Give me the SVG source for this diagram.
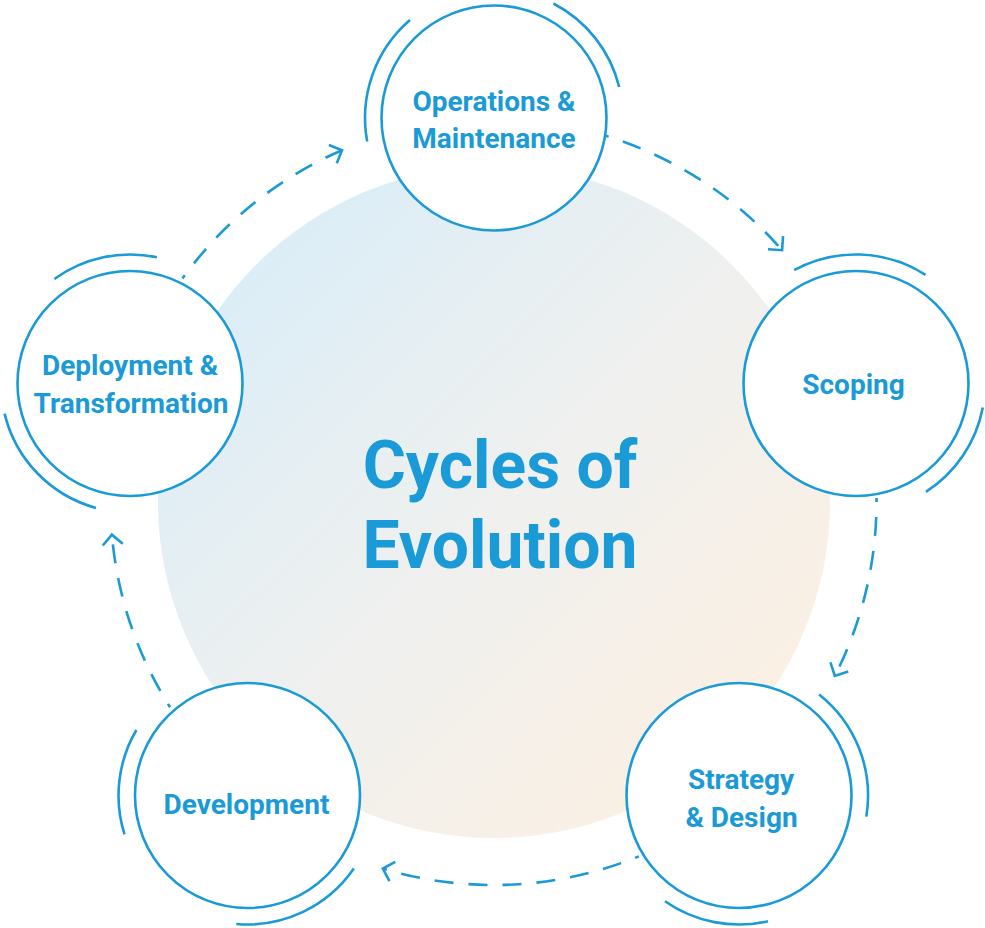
<svg xmlns="http://www.w3.org/2000/svg" width="985" height="928" viewBox="0 0 985 928">
  <style>
    .ring { fill: #ffffff; stroke: #1a9ad6; stroke-width: 2.6; }
    .halo { fill: none; stroke: #1a9ad6; stroke-width: 2.6; }
    .flow { fill: none; stroke: #1a9ad6; stroke-width: 2.6; stroke-dasharray: 19 15; stroke-dashoffset: 15; }
    .label { font-family: Roboto, "Liberation Sans", sans-serif; font-weight: 700; font-size: 28px; fill: #1a9ad6; text-anchor: middle; }
    .title { font-family: Roboto, "Liberation Sans", sans-serif; font-weight: 700; font-size: 66px; fill: #1a9ad6; text-anchor: middle; }
  </style>
  <defs>
    <linearGradient id="hub" x1="0" y1="0" x2="1" y2="1">
      <stop offset="0.1" stop-color="#d9edf8"/>
      <stop offset="0.5" stop-color="#eff0ef"/>
      <stop offset="0.9" stop-color="#fcf0e2"/>
    </linearGradient>
    <marker id="chevron" markerUnits="userSpaceOnUse" markerWidth="24" markerHeight="24" refX="12" refY="12" orient="auto">
      <path d="M2,2 L12,12 L2,22" fill="none" stroke="#1a9ad6" stroke-width="2.6"/>
    </marker>
  </defs>

  <rect width="985" height="928" fill="#ffffff"/>

  <!-- central hub -->
  <g id="hub-circle">
    <circle cx="494" cy="502" r="336" fill="url(#hub)"/>
    <text class="title" x="500" y="488">Cycles of</text>
    <text class="title" x="500" y="568">Evolution</text>
  </g>

  <!-- dashed cycle arrows along a common ring -->
  <g id="connectors">
    <path class="flow" d="M604.8,135.6 A383,383 0 0 1 782.1,250.2" marker-end="url(#chevron)"/>
    <path class="flow" d="M876.5,498 A383,383 0 0 1 834.8,675.9" marker-end="url(#chevron)"/>
    <path class="flow" d="M638.8,856.4 A383,383 0 0 1 382.8,868.6" marker-end="url(#chevron)"/>
    <path class="flow" d="M170.1,707.2 A383,383 0 0 1 111.9,534.7" marker-end="url(#chevron)"/>
    <path class="flow" d="M182.5,278.5 A383,383 0 0 1 342,150.2" marker-end="url(#chevron)"/>
  </g>

  <g id="operations">
    <path class="halo" d="M367.2,141.5 A129,129 0 0 1 410,20.1"/>
    <path class="halo" d="M553.4,3.5 A129,129 0 0 1 619.2,87"/>
    <circle class="ring" cx="494" cy="118" r="112.5"/>
    <text class="label" x="494" y="111">Operations &amp;</text>
    <text class="label" x="494" y="148">Maintenance</text>
  </g>

  <g id="scoping">
    <path class="halo" d="M794.2,270.2 A129,129 0 0 1 925.5,274.8"/>
    <path class="halo" d="M982.8,407.5 A129,129 0 0 1 925.9,491.9"/>
    <circle class="ring" cx="856" cy="383.5" r="112.5"/>
    <text class="label" x="853.5" y="394">Scoping</text>
  </g>

  <g id="strategy">
    <path class="halo" d="M819.1,694.4 A129,129 0 0 1 866.3,816.6"/>
    <path class="halo" d="M768,921.2 A129,129 0 0 1 665,901.2"/>
    <circle class="ring" cx="739" cy="795.5" r="112.5"/>
    <text class="label" x="741" y="789">Strategy</text>
    <text class="label" x="741.5" y="827">&amp; Design</text>
  </g>

  <g id="development">
    <path class="halo" d="M124.5,834.3 A129,129 0 0 1 136.4,730"/>
    <path class="halo" d="M353.8,868.6 A129,129 0 0 1 236.3,924"/>
    <circle class="ring" cx="247.5" cy="795.5" r="112.5"/>
    <text class="label" x="246.5" y="814">Development</text>
  </g>

  <g id="deployment">
    <path class="halo" d="M54.4,279 A129,129 0 0 1 156.8,257.3"/>
    <path class="halo" d="M96,507.9 A129,129 0 0 1 4.6,413.6"/>
    <circle class="ring" cx="130" cy="383.5" r="112.5"/>
    <text class="label" x="130" y="375">Deployment &amp;</text>
    <text class="label" x="131" y="413">Transformation</text>
  </g>
</svg>
